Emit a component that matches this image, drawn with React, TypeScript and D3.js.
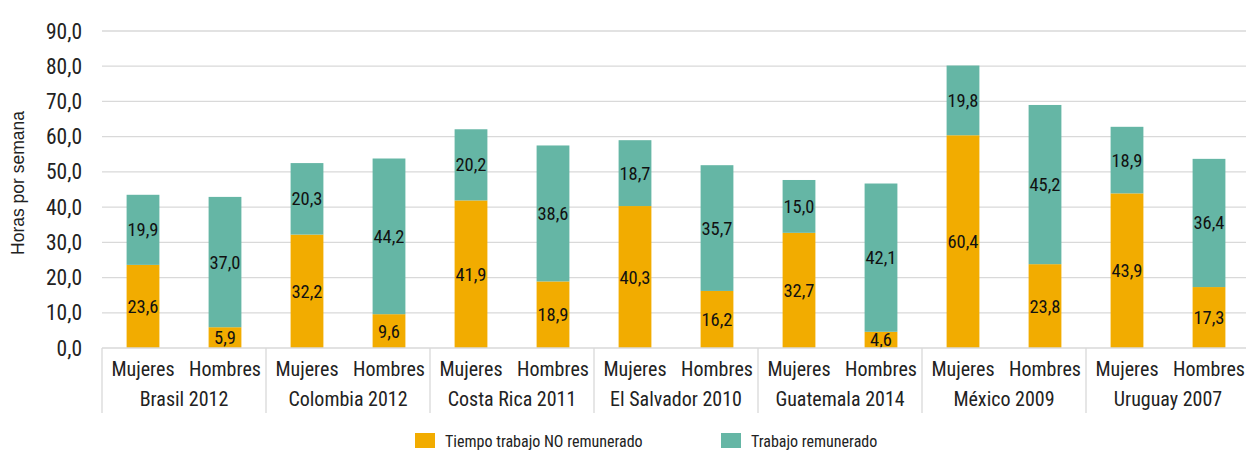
import React from "react";
import * as d3 from "d3";

const countries = ["Brasil 2012", "Colombia 2012", "Costa Rica 2011", "El Salvador 2010", "Guatemala 2014", "México 2009", "Uruguay 2007"];
const sexes = ["Mujeres", "Hombres"];
// [Mujeres, Hombres] per country
const noRemunerado = [
  [23.6, 5.9], [32.2, 9.6], [41.9, 18.9], [40.3, 16.2], [32.7, 4.6], [60.4, 23.8], [43.9, 17.3],
];
const remunerado = [
  [19.9, 37.0], [20.3, 44.2], [20.2, 38.6], [18.7, 35.7], [15.0, 42.1], [19.8, 45.2], [18.9, 36.4],
];
const yTicks = [0, 10, 20, 30, 40, 50, 60, 70, 80, 90];
const seriesNames = ["Tiempo trabajo NO remunerado", "Trabajo remunerado"];
const colors = ["#F2AC00", "#65B6A5"];

const W = 1246, H = 452;
const FONT = "'Roboto Condensed', 'Liberation Sans Narrow', 'DejaVu Sans Condensed', sans-serif";

export default function App() {
  const x0 = d3.scaleBand<string>().domain(countries).range([102, 1250]).paddingInner(0).paddingOuter(0);
  const x1 = d3.scaleBand<string>().domain(sexes).range([0, x0.bandwidth()]).paddingInner(0.6).paddingOuter(0.3);
  const y = d3.scaleLinear().domain([0, 90]).range([348, 31]);
  const fmt = (v: number) => v.toFixed(1).replace(".", ",");

  return (
    <svg width={W} height={H} style={{ position: "absolute", left: 0, top: 0, background: "#fff" }} fontFamily={FONT}>
      {yTicks.map((t) => (
        <g key={t}>
          {t > 0 && <line x1={102} x2={1250} y1={y(t)} y2={y(t)} stroke="#d9d9d9" strokeWidth={1.3} />}
          <text x={82} y={y(t)} dy="0.35em" textAnchor="end" fontSize={21.5} fill="#222">{fmt(t)}</text>
        </g>
      ))}
      <text transform={`translate(24,183) rotate(-90)`} textAnchor="middle" fontSize={17.5} fill="#222" fontFamily="'Liberation Sans', Arial, sans-serif">Horas por semana</text>
      {countries.map((c, i) => (
        <g key={c}>
          {sexes.map((s, j) => {
            const bx = (x0(c) as number) + (x1(s) as number);
            const bw = x1.bandwidth();
            const a = noRemunerado[i][j];
            const b = remunerado[i][j];
            return (
              <g key={s}>
                <rect x={bx} width={bw} y={y(a)} height={y(0) - y(a)} fill={colors[0]} />
                <rect x={bx} width={bw} y={y(a + b)} height={y(a) - y(a + b)} fill={colors[1]} />
                <text x={bx + bw / 2} y={(y(0) + y(a)) / 2} dy="0.35em" textAnchor="middle" fontSize={18.5} fill="#111">{fmt(a)}</text>
                <text x={bx + bw / 2} y={(y(a) + y(a + b)) / 2} dy="0.35em" textAnchor="middle" fontSize={18.5} fill="#111">{fmt(b)}</text>
                <text x={bx + bw / 2} y={369} dy="0.35em" textAnchor="middle" fontSize={20} fill="#222">{s}</text>
              </g>
            );
          })}
          <text x={(x0(c) as number) + x0.bandwidth() / 2} y={399} dy="0.35em" textAnchor="middle" fontSize={20} fill="#222">{c}</text>
        </g>
      ))}
      <line x1={102} x2={1250} y1={y(0)} y2={y(0)} stroke="#d9d9d9" strokeWidth={1.3} />
      {d3.range(countries.length + 1).map((k) => {
        const xx = k < countries.length ? (x0(countries[k]) as number) : 1250;
        return <line key={k} x1={xx} x2={xx} y1={y(0)} y2={413} stroke="#d9d9d9" strokeWidth={1.3} />;
      })}
      {seriesNames.map((n, i) => {
        const lx = [415, 721][i];
        return (
          <g key={n}>
            <rect x={lx} y={433} width={20} height={15} fill={colors[i]} />
            <text x={lx + 30} y={441} dy="0.35em" fontSize={16} fill="#222">{n}</text>
          </g>
        );
      })}
    </svg>
  );
}
